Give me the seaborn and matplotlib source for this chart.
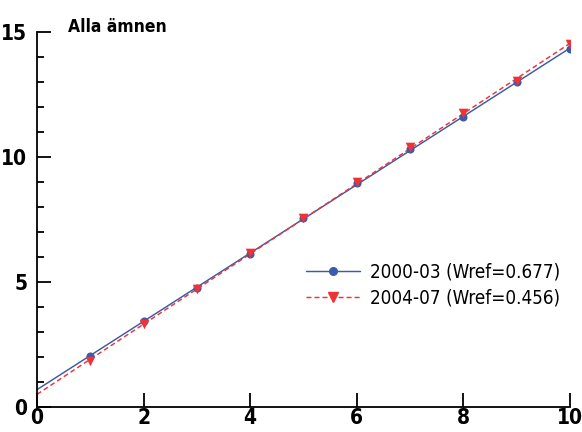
import matplotlib
matplotlib.use("Agg")
import matplotlib.pyplot as plt
from matplotlib.lines import Line2D
import seaborn as sns
import pandas as pd

# Grade positions and mean scores per period
x_vals = [1, 2, 3, 4, 5, 6, 7, 8, 9, 10]
y_2000_03 = [2.05, 3.45, 4.75, 6.1, 7.55, 8.95, 10.3, 11.6, 13.0, 14.3]
y_2004_07 = [1.85, 3.3, 4.7, 6.15, 7.55, 9.0, 10.4, 11.75, 13.05, 14.5]
labels = ["2000-03 (Wref=0.677)", "2004-07 (Wref=0.456)"]
title = "Alla ämnen"
x_ticks = [0, 2, 4, 6, 8, 10]
y_ticks = [0, 5, 10, 15]

sns.set_theme(style="ticks")
plt.rcParams["font.family"] = ["DejaVu Sans"]
plt.rcParams["font.stretch"] = "condensed"
plt.rcParams["text.color"] = "black"
plt.rcParams["xtick.labelcolor"] = "black"
plt.rcParams["ytick.labelcolor"] = "black"

df = pd.DataFrame({"x": x_vals, "a": y_2000_03, "b": y_2004_07})

fig = plt.figure(figsize=(5.82, 4.32), dpi=100)
ax = fig.add_axes([0.0636, 0.0579, 0.9154, 0.8681])
ax.set_xlim(0, 10)
ax.set_ylim(0, 15)

blue = "#3b5aa9"
red = "#ee3338"
dash = (0, (3.4, 2.1))
lw = 1.05

# Least-squares lines across the full x range, with the period means as markers
sns.regplot(data=df, x="x", y="a", ax=ax, scatter=False, ci=None, truncate=False,
            line_kws=dict(color=blue, lw=lw, ls="-"))
sns.regplot(data=df, x="x", y="b", ax=ax, scatter=False, ci=None, truncate=False,
            line_kws=dict(color=red, lw=lw, ls=dash))
sns.scatterplot(data=df, x="x", y="a", ax=ax, color=blue, marker="o", s=34,
                edgecolor=blue, linewidth=0, zorder=3)
sns.scatterplot(data=df, x="x", y="b", ax=ax, color=red, marker="v", s=48,
                edgecolor=red, linewidth=0, zorder=4)

ax.set_xlim(0, 10)
ax.set_ylim(0, 15)
ax.set_xlabel("")
ax.set_ylabel("")
sns.despine(ax=ax)
for s in ("left", "bottom"):
    ax.spines[s].set_color("black")
    ax.spines[s].set_linewidth(1.3)

ax.set_xticks(x_ticks)
ax.set_yticks(y_ticks)
ax.set_yticks(range(0, 16), minor=True)
ax.tick_params(axis="x", direction="in", length=10, width=1.3, color="black",
               labelsize=15, pad=1)
ax.tick_params(axis="y", which="major", direction="in", length=10, width=1.3,
               color="black", labelsize=15, pad=7)
ax.tick_params(axis="y", which="minor", direction="in", length=5, width=1.3, color="black")
for t in ax.get_xticklabels() + ax.get_yticklabels():
    t.set_fontweight("bold")
    t.set_fontstretch("condensed")

ax.text(0.058, 1.0, title, transform=ax.transAxes, fontsize=12.5, fontweight="bold",
        fontstretch="condensed", ha="left", va="baseline")

handles = [
    Line2D([], [], color=blue, lw=lw, marker="o", markersize=5.5),
    Line2D([], [], color=red, lw=lw, ls=dash, marker="v", markersize=6.5),
]
ax.legend(handles, labels, loc="center left", bbox_to_anchor=(0.5253, 0.3405),
          bbox_transform=fig.transFigure, frameon=False, handlelength=2.9,
          labelspacing=0.39, handletextpad=0.53, borderpad=0, borderaxespad=0,
          prop=dict(size=13.5, stretch="condensed"))

fig.savefig("out.png", dpi=100)
